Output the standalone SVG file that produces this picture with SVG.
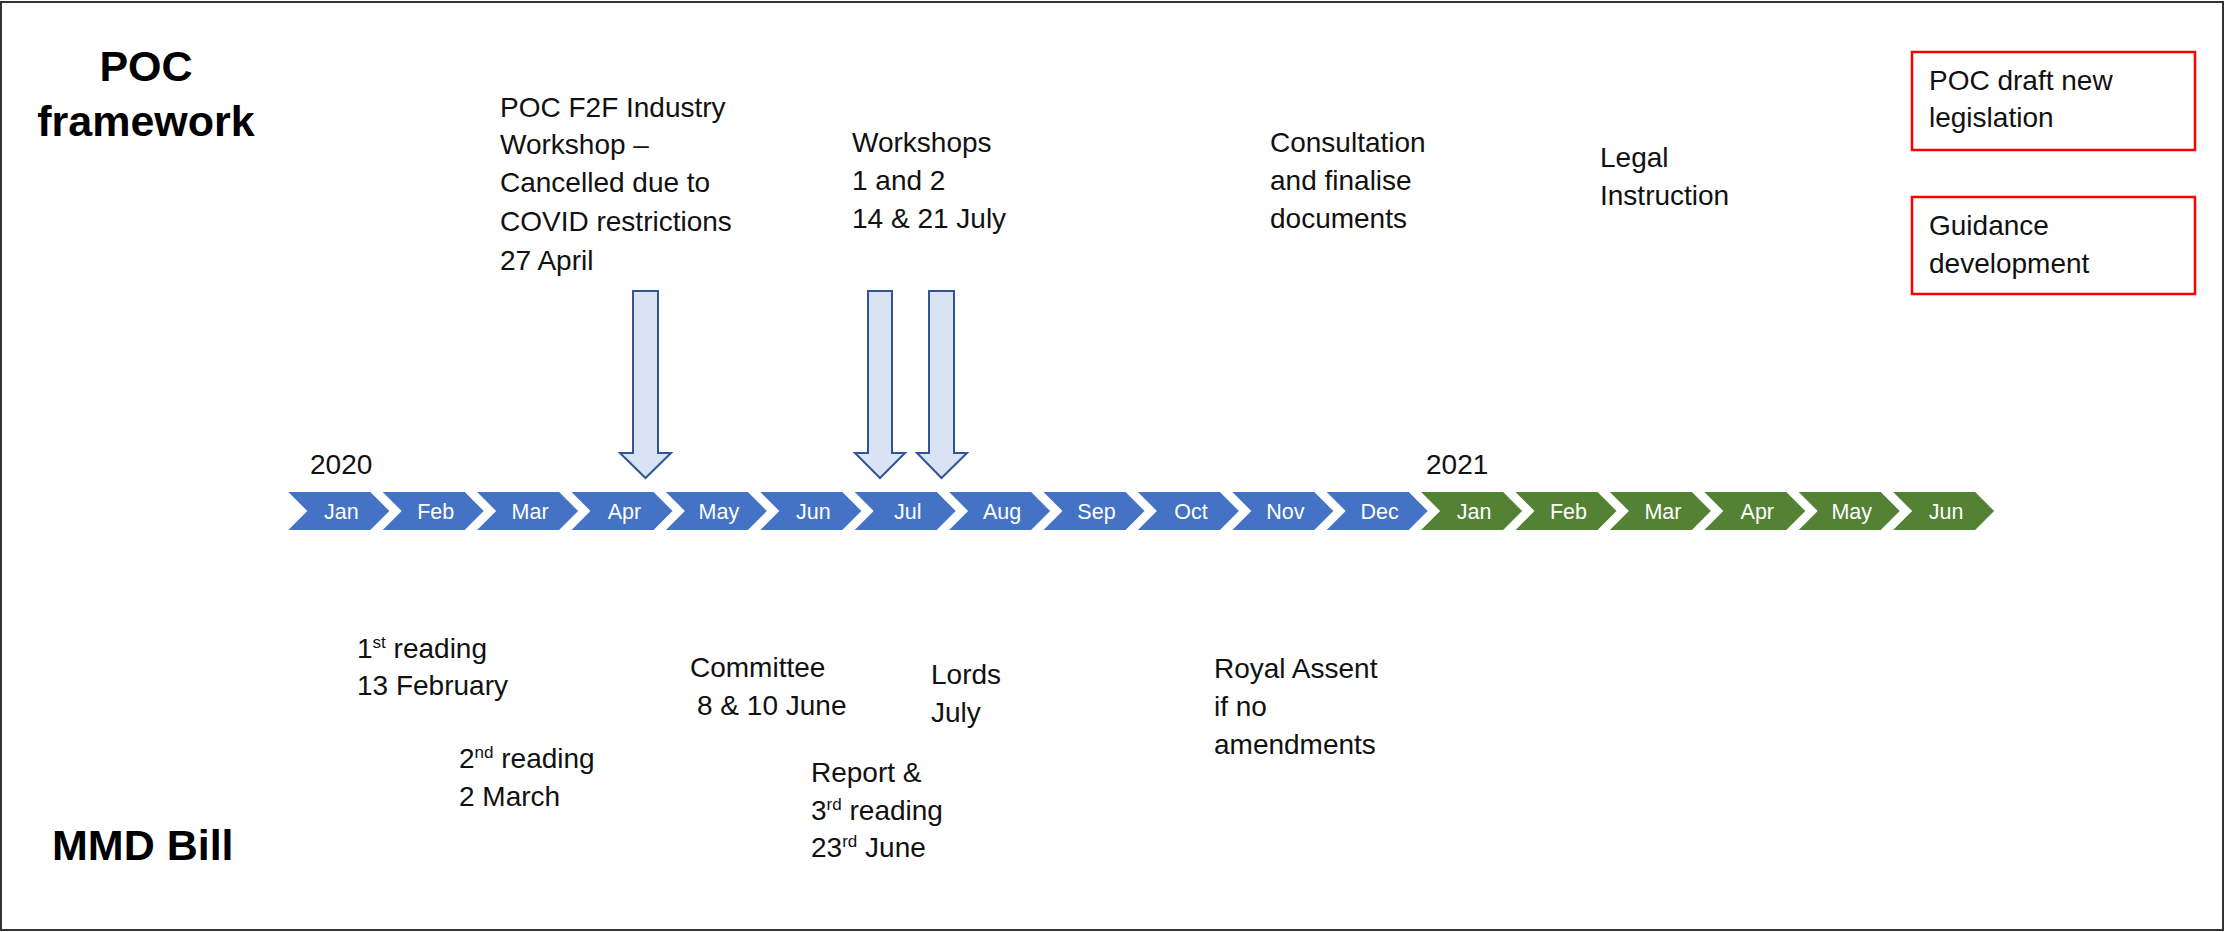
<svg xmlns="http://www.w3.org/2000/svg" xmlns:xlink="http://www.w3.org/1999/xlink" width="2226" height="932" viewBox="0 0 2226 932">
<style>
  .t { font-family: "Liberation Sans", Arial, sans-serif; font-size: 28px; fill: #111; }
  .h { font-family: "Liberation Sans", Arial, sans-serif; font-size: 43px; font-weight: bold; fill: #000; }
  .m { font-family: "Liberation Sans", Arial, sans-serif; font-size: 21.5px; fill: #fff; text-anchor: middle; }
  .blue { fill: #4472c4; }
  .green { fill: #548235; }
  .arrow { fill: #dae3f3; stroke: #2f5597; stroke-width: 2; stroke-linejoin: miter; }
  .redbox { fill: #fff; stroke: #ff0000; stroke-width: 2.5; }
  .sup { font-size: 17px; }
</style>
<defs>
  <polygon id="chev" points="0,0 82,0 101,19 82,38 0,38 19,19"/>
</defs>
<rect x="0" y="0" width="2226" height="932" fill="#fff"/>
<rect x="1" y="2" width="2222" height="928" fill="none" stroke="#333" stroke-width="2"/>

<g id="title-poc">
  <text class="h" x="146" y="81" text-anchor="middle">POC</text>
  <text class="h" x="146" y="136" text-anchor="middle">framework</text>
</g>
<g id="title-mmd">
  <text class="h" x="52" y="860">MMD Bill</text>
</g>

<g id="year-2020"><text class="t" x="310" y="474">2020</text></g>
<g id="year-2021"><text class="t" x="1426" y="474">2021</text></g>

<g id="timeline">
  <g id="m-2020-jan"><use xlink:href="#chev" class="blue" x="288.3" y="492"/><text class="m" x="341.3" y="519">Jan</text></g>
  <g id="m-2020-feb"><use xlink:href="#chev" class="blue" x="382.7" y="492"/><text class="m" x="435.7" y="519">Feb</text></g>
  <g id="m-2020-mar"><use xlink:href="#chev" class="blue" x="477.1" y="492"/><text class="m" x="530.1" y="519">Mar</text></g>
  <g id="m-2020-apr"><use xlink:href="#chev" class="blue" x="571.5" y="492"/><text class="m" x="624.5" y="519">Apr</text></g>
  <g id="m-2020-may"><use xlink:href="#chev" class="blue" x="665.9" y="492"/><text class="m" x="718.9" y="519">May</text></g>
  <g id="m-2020-jun"><use xlink:href="#chev" class="blue" x="760.3" y="492"/><text class="m" x="813.3" y="519">Jun</text></g>
  <g id="m-2020-jul"><use xlink:href="#chev" class="blue" x="854.7" y="492"/><text class="m" x="907.7" y="519">Jul</text></g>
  <g id="m-2020-aug"><use xlink:href="#chev" class="blue" x="949.1" y="492"/><text class="m" x="1002.1" y="519">Aug</text></g>
  <g id="m-2020-sep"><use xlink:href="#chev" class="blue" x="1043.5" y="492"/><text class="m" x="1096.5" y="519">Sep</text></g>
  <g id="m-2020-oct"><use xlink:href="#chev" class="blue" x="1137.9" y="492"/><text class="m" x="1190.9" y="519">Oct</text></g>
  <g id="m-2020-nov"><use xlink:href="#chev" class="blue" x="1232.3" y="492"/><text class="m" x="1285.3" y="519">Nov</text></g>
  <g id="m-2020-dec"><use xlink:href="#chev" class="blue" x="1326.7" y="492"/><text class="m" x="1379.7" y="519">Dec</text></g>
  <g id="m-2021-jan"><use xlink:href="#chev" class="green" x="1421.1" y="492"/><text class="m" x="1474.1" y="519">Jan</text></g>
  <g id="m-2021-feb"><use xlink:href="#chev" class="green" x="1515.5" y="492"/><text class="m" x="1568.5" y="519">Feb</text></g>
  <g id="m-2021-mar"><use xlink:href="#chev" class="green" x="1609.9" y="492"/><text class="m" x="1662.9" y="519">Mar</text></g>
  <g id="m-2021-apr"><use xlink:href="#chev" class="green" x="1704.3" y="492"/><text class="m" x="1757.3" y="519">Apr</text></g>
  <g id="m-2021-may"><use xlink:href="#chev" class="green" x="1798.7" y="492"/><text class="m" x="1851.7" y="519">May</text></g>
  <g id="m-2021-jun"><use xlink:href="#chev" class="green" x="1893.1" y="492"/><text class="m" x="1946.1" y="519">Jun</text></g>
</g>

<g id="connectors">
  <polygon class="arrow" points="633,291 658,291 658,453 671,453 645.5,478 620,453 633,453"/>
  <polygon class="arrow" points="868,291 892,291 892,453 905,453 880,478 855,453 868,453"/>
  <polygon class="arrow" points="929,291 954,291 954,453 967,453 941.5,478 917,453 929,453"/>
</g>

<g id="poc-workshop">
  <text class="t" x="500" y="117">POC F2F Industry</text>
  <text class="t" x="500" y="154">Workshop –</text>
  <text class="t" x="500" y="192">Cancelled due to</text>
  <text class="t" x="500" y="231">COVID restrictions</text>
  <text class="t" x="500" y="270">27 April</text>
</g>
<g id="workshops">
  <text class="t" x="852" y="152">Workshops</text>
  <text class="t" x="852" y="190">1 and 2</text>
  <text class="t" x="852" y="228">14 &amp; 21 July</text>
</g>
<g id="consultation">
  <text class="t" x="1270" y="152">Consultation</text>
  <text class="t" x="1270" y="190">and finalise</text>
  <text class="t" x="1270" y="228">documents</text>
</g>
<g id="legal">
  <text class="t" x="1600" y="167">Legal</text>
  <text class="t" x="1600" y="205">Instruction</text>
</g>
<g id="poc-draft">
  <rect class="redbox" x="1912" y="52" width="283" height="98"/>
  <text class="t" x="1929" y="90">POC draft new</text>
  <text class="t" x="1929" y="127">legislation</text>
</g>
<g id="guidance">
  <rect class="redbox" x="1912" y="197" width="283" height="97"/>
  <text class="t" x="1929" y="235">Guidance</text>
  <text class="t" x="1929" y="273">development</text>
</g>

<g id="first-reading">
  <text class="t" x="357" y="658">1<tspan class="sup" dy="-10">st</tspan><tspan dy="10"> reading</tspan></text>
  <text class="t" x="357" y="695">13 February</text>
</g>
<g id="second-reading">
  <text class="t" x="459" y="768">2<tspan class="sup" dy="-10">nd</tspan><tspan dy="10"> reading</tspan></text>
  <text class="t" x="459" y="806">2 March</text>
</g>
<g id="committee">
  <text class="t" x="690" y="677">Committee</text>
  <text class="t" x="697" y="715">8 &amp; 10 June</text>
</g>
<g id="lords">
  <text class="t" x="931" y="684">Lords</text>
  <text class="t" x="931" y="722">July</text>
</g>
<g id="report">
  <text class="t" x="811" y="782">Report &amp;</text>
  <text class="t" x="811" y="820">3<tspan class="sup" dy="-10">rd</tspan><tspan dy="10"> reading</tspan></text>
  <text class="t" x="811" y="857">23<tspan class="sup" dy="-10">rd</tspan><tspan dy="10"> June</tspan></text>
</g>
<g id="royal-assent">
  <text class="t" x="1214" y="678">Royal Assent</text>
  <text class="t" x="1214" y="716">if no</text>
  <text class="t" x="1214" y="754">amendments</text>
</g>
</svg>
